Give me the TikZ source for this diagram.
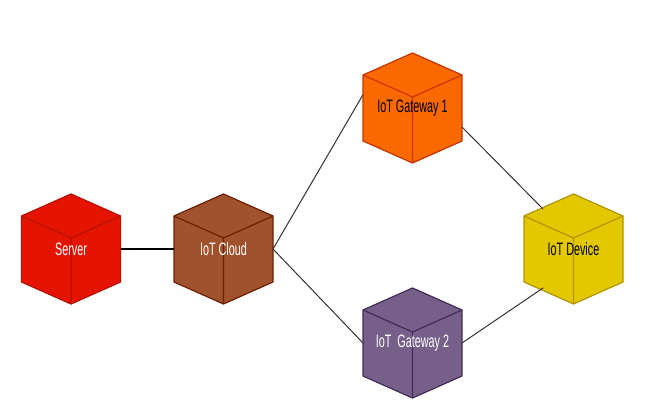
\documentclass[tikz,border=0pt]{standalone}
\usepackage{fontspec}
\setmainfont{Liberation Sans}
\usepackage{tikz}

\definecolor{serverfill}{HTML}{E51400}
\definecolor{serverline}{HTML}{B81000}
\definecolor{cloudfill}{HTML}{A0522D}
\definecolor{cloudline}{HTML}{6D1F00}
\definecolor{gwonefill}{HTML}{FA6800}
\definecolor{gwoneline}{HTML}{C73500}
\definecolor{gwtwofill}{HTML}{76608A}
\definecolor{gwtwoline}{HTML}{432D57}
\definecolor{devicefill}{HTML}{E3C800}
\definecolor{deviceline}{HTML}{B09500}

\tikzset{
  cubelabel/.style={minimum width=99pt,minimum height=110pt,inner sep=0pt,outer sep=0pt,font=\fontsize{18}{20}\selectfont},
  link/.style={draw=black!80,line width=1pt}
}

% name, x, y, fill, edge, text colour, label
\newcommand{\iotcube}[7]{
  \begin{scope}[shift={(#2,#3)},line width=1.2pt,draw=#5]
    \draw[fill=#4] (0,-55) -- (49.5,-33) -- (49.5,33) -- (0,55) -- (-49.5,33) -- (-49.5,-33) -- cycle;
    \draw (-49.5,-33) -- (0,-11) -- (49.5,-33) (0,-11) -- (0,55);
  \end{scope}
  \node[cubelabel,text=#6] (#1) at (#2,#3) {\raisebox{-1pt}{\scalebox{0.6}[1]{#7}}};
}

\begin{document}
\begin{tikzpicture}[x=1pt,y=-1pt]
  \useasboundingbox (0,0) rectangle (648,406);

  \iotcube{server}{71}{249}{serverfill}{serverline}{white}{Server}
  \iotcube{cloud}{223.5}{249}{cloudfill}{cloudline}{white}{IoT Cloud}
  \iotcube{gwone}{412.5}{108}{gwonefill}{gwoneline}{black}{IoT Gateway 1}
  \iotcube{gwtwo}{412.5}{343}{gwtwofill}{gwtwoline}{white}{IoT\ \ Gateway 2}
  \iotcube{device}{573.5}{249}{devicefill}{deviceline}{black}{IoT Device}

  \coordinate (deviceup) at (543,209);
  \coordinate (devicelow) at (543,288);

  \draw[line width=2.5pt] (server.east) -- (cloud.west);
  \draw[link] (cloud.east) -- (gwone.165);
  \draw[link] (cloud.east) -- (gwtwo.west);
  \draw[link] (gwone.-21) -- (deviceup);
  \draw[link] (gwtwo.east) -- (devicelow);
\end{tikzpicture}
\end{document}
